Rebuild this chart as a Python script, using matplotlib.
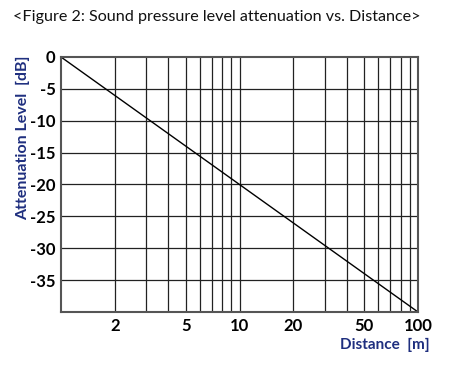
import numpy as np
import matplotlib.pyplot as plt

# attenuation line: 0 dB at 1 m, -40 dB at 100 m
distance = [1, 100]
attenuation = [0, -40]

x_ticks = [2, 5, 10, 20, 50, 100]
x_grid = [2, 3, 4, 5, 6, 7, 8, 9, 10, 20, 30, 40, 50, 60, 70, 80, 90]
y_ticks = [0, -5, -10, -15, -20, -25, -30, -35]
y_grid = [-5, -10, -15, -20, -25, -30, -35]

navy = '#1f2f7f'
plt.rcParams['font.family'] = ['Lato', 'DejaVu Sans']

fig = plt.figure(figsize=(4.56, 3.78), dpi=100)
ax = fig.add_axes([61 / 456, 1 - 312 / 378, 357 / 456, 255 / 378])

ax.plot(distance, attenuation, color='black', lw=1)
ax.set_xscale('log')
ax.set_xlim(1, 100)
ax.set_ylim(-40, 0)

for x in x_grid:
    ax.axvline(x, color='#222222', lw=0.9, zorder=0)
for y in y_grid:
    ax.axhline(y, color='#222222', lw=0.9, zorder=0)

ax.set_xticks(x_ticks)
ax.set_xticklabels([str(t) for t in x_ticks])
ax.xaxis.set_minor_locator(plt.NullLocator())
ax.set_yticks(y_ticks)
ax.set_yticklabels([str(t) for t in y_ticks])
ax.tick_params(length=0, labelsize=12, pad=4)
for lab in ax.get_xticklabels() + ax.get_yticklabels():
    lab.set_fontweight('bold')

for s in ax.spines.values():
    s.set_color('#555555')
    s.set_linewidth(1.5)

fig.text(13 / 456, 1 - 17 / 378, '<Figure 2: Sound pressure level attenuation vs. Distance>',
         fontsize=11.6, va='center', ha='left', color='#111111')
fig.text(430 / 456, 1 - 345 / 378, 'Distance  [m]', color=navy, fontsize=11,
         fontweight='bold', ha='right', va='center')
fig.text(23 / 456, 1 - 55 / 378, 'Attenuation Level  [dB]', color=navy, fontsize=11.5,
         fontweight='bold', rotation=90, ha='center', va='top')

fig.savefig('out.png', dpi=100)
